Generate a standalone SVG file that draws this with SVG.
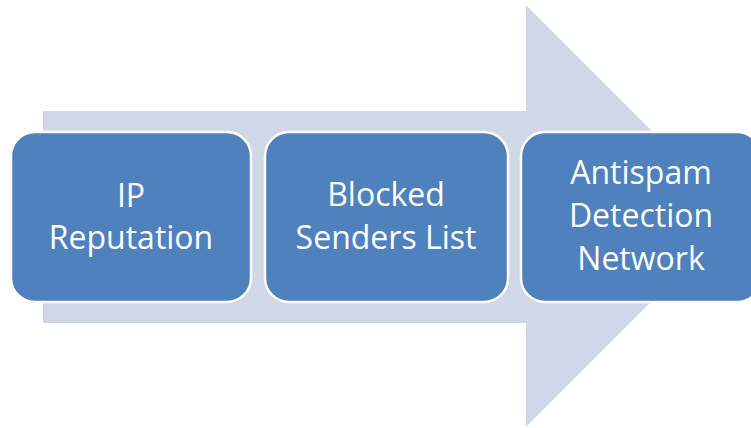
<svg xmlns="http://www.w3.org/2000/svg" width="751" height="428" viewBox="0 0 751 428">
  <style>
    .step rect { fill: #4F81BD; stroke: #FFFFFF; stroke-width: 2.5; }
    .step text { fill: #FFFFFF; font-family: "Open Sans", "Noto Sans", "Liberation Sans", sans-serif; font-size: 32px; text-anchor: middle; }
  </style>
  <rect width="751" height="428" fill="#FFFFFF"/>
  <!-- background process arrow -->
  <g id="connectors">
    <polygon points="43,111 526,111 526,5 737,216 526,427 526,323 43,323" fill="#D0D8E8"/>
  </g>
  <g id="ip-reputation" class="step">
    <rect x="11" y="132" width="240" height="170" rx="24" ry="24"/>
    <text x="131" y="207">IP</text>
    <text x="131" y="249">Reputation</text>
  </g>
  <g id="blocked-senders" class="step">
    <rect x="265" y="132" width="243" height="170" rx="24" ry="24"/>
    <text x="386" y="206">Blocked</text>
    <text x="386" y="249">Senders List</text>
  </g>
  <g id="antispam-network" class="step">
    <rect x="521" y="132" width="240" height="170" rx="24" ry="24"/>
    <text x="641" y="184">Antispam</text>
    <text x="641" y="227">Detection</text>
    <text x="641" y="270">Network</text>
  </g>
</svg>
